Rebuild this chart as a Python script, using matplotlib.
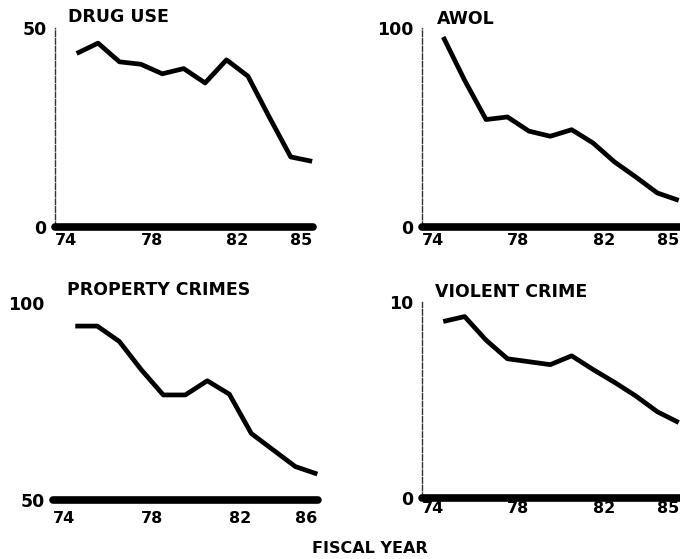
import numpy as np
import matplotlib
matplotlib.use("Agg")
import matplotlib.pyplot as plt

# fiscal years 74..85, plotted at mid-year
years = np.arange(74, 86)
drug_use = [43.6, 46.2, 41.5, 40.9, 38.5, 39.8, 36.2, 42.0, 37.9, 27.6, 17.6, 16.5]
awol = [95.5, 73.7, 54.0, 55.3, 48.2, 45.6, 48.9, 42.2, 32.7, 25.1, 17.1, 13.4]
property_crimes = [94.2, 94.2, 90.3, 83.1, 76.7, 76.7, 80.3, 76.9, 66.9, 62.7, 58.5, 56.6]
violent_crime = [9.0, 9.25, 8.05, 7.1, 6.95, 6.8, 7.25, 6.55, 5.9, 5.2, 4.4, 3.85]

titles = ["DRUG USE", "AWOL", "PROPERTY CRIMES", "VIOLENT CRIME"]
tick_years = [74, 78, 82, 85]
xlabels_top = ["74", "78", "82", "85"]
xlabels_bl = ["74", "78", "82", "86"]

plt.rcParams['font.family'] = ['DejaVu Sans']
plt.rcParams['font.weight'] = 'bold'

fig = plt.figure(figsize=(6.8, 5.59), dpi=100)

def panel(rect, y, ylim, ylabels, xlabels, xpad, show_left):
    ax = fig.add_axes(rect)
    ax.plot(years + 0.5, y, color='black', lw=3.4, solid_joinstyle='round', solid_capstyle='butt')
    ax.set_xlim(73.49, 85.54)
    ax.set_ylim(ylim)
    ax.set_xticks(tick_years)
    ax.set_xticklabels(xlabels, fontsize=11.5, fontweight='bold')
    ax.set_yticks(ylim)
    ax.set_yticklabels(ylabels, fontsize=12.5, fontweight='bold')
    ax.tick_params(axis='x', length=0, pad=xpad)
    ax.tick_params(axis='y', length=0, pad=6)
    ax.spines['top'].set_visible(False)
    ax.spines['right'].set_visible(False)
    ax.spines['bottom'].set_linewidth(5.5)
    ax.spines['bottom'].set_capstyle('round')
    if show_left:
        ax.spines['left'].set_linewidth(1.0)
        ax.spines['left'].set_linestyle((0, (4, 1.5)))
        ax.spines['left'].set_color('#333333')
    else:
        ax.spines['left'].set_visible(False)
    ax.patch.set_alpha(0)
    return ax

panel([0.0809, 0.5939, 0.3794, 0.356], drug_use, (0, 50), ["0", "50"], xlabels_top, 4, True)
panel([0.620, 0.5939, 0.3794, 0.356], awol, (0, 100), ["0", "100"], xlabels_top, 4, True)
panel([0.078, 0.1055, 0.39, 0.352], property_crimes, (50, 100), ["50", "100"], xlabels_bl, 8, False)
panel([0.620, 0.109, 0.3794, 0.351], violent_crime, (0, 10), ["0", "10"], xlabels_top, 2, True)

fig.text(0.100, 0.970, titles[0], fontsize=12.5, fontweight='bold', va='center', ha='left')
fig.text(0.643, 0.966, titles[1], fontsize=12.5, fontweight='bold', va='center', ha='left')
fig.text(0.099, 0.481, titles[2], fontsize=12.5, fontweight='bold', va='center', ha='left')
fig.text(0.640, 0.478, titles[3], fontsize=12.5, fontweight='bold', va='center', ha='left')

fig.text(0.544, 0.019, "FISCAL YEAR", fontsize=11.5, fontweight='bold', va='center', ha='center')

fig.savefig("out.png", dpi=100)
